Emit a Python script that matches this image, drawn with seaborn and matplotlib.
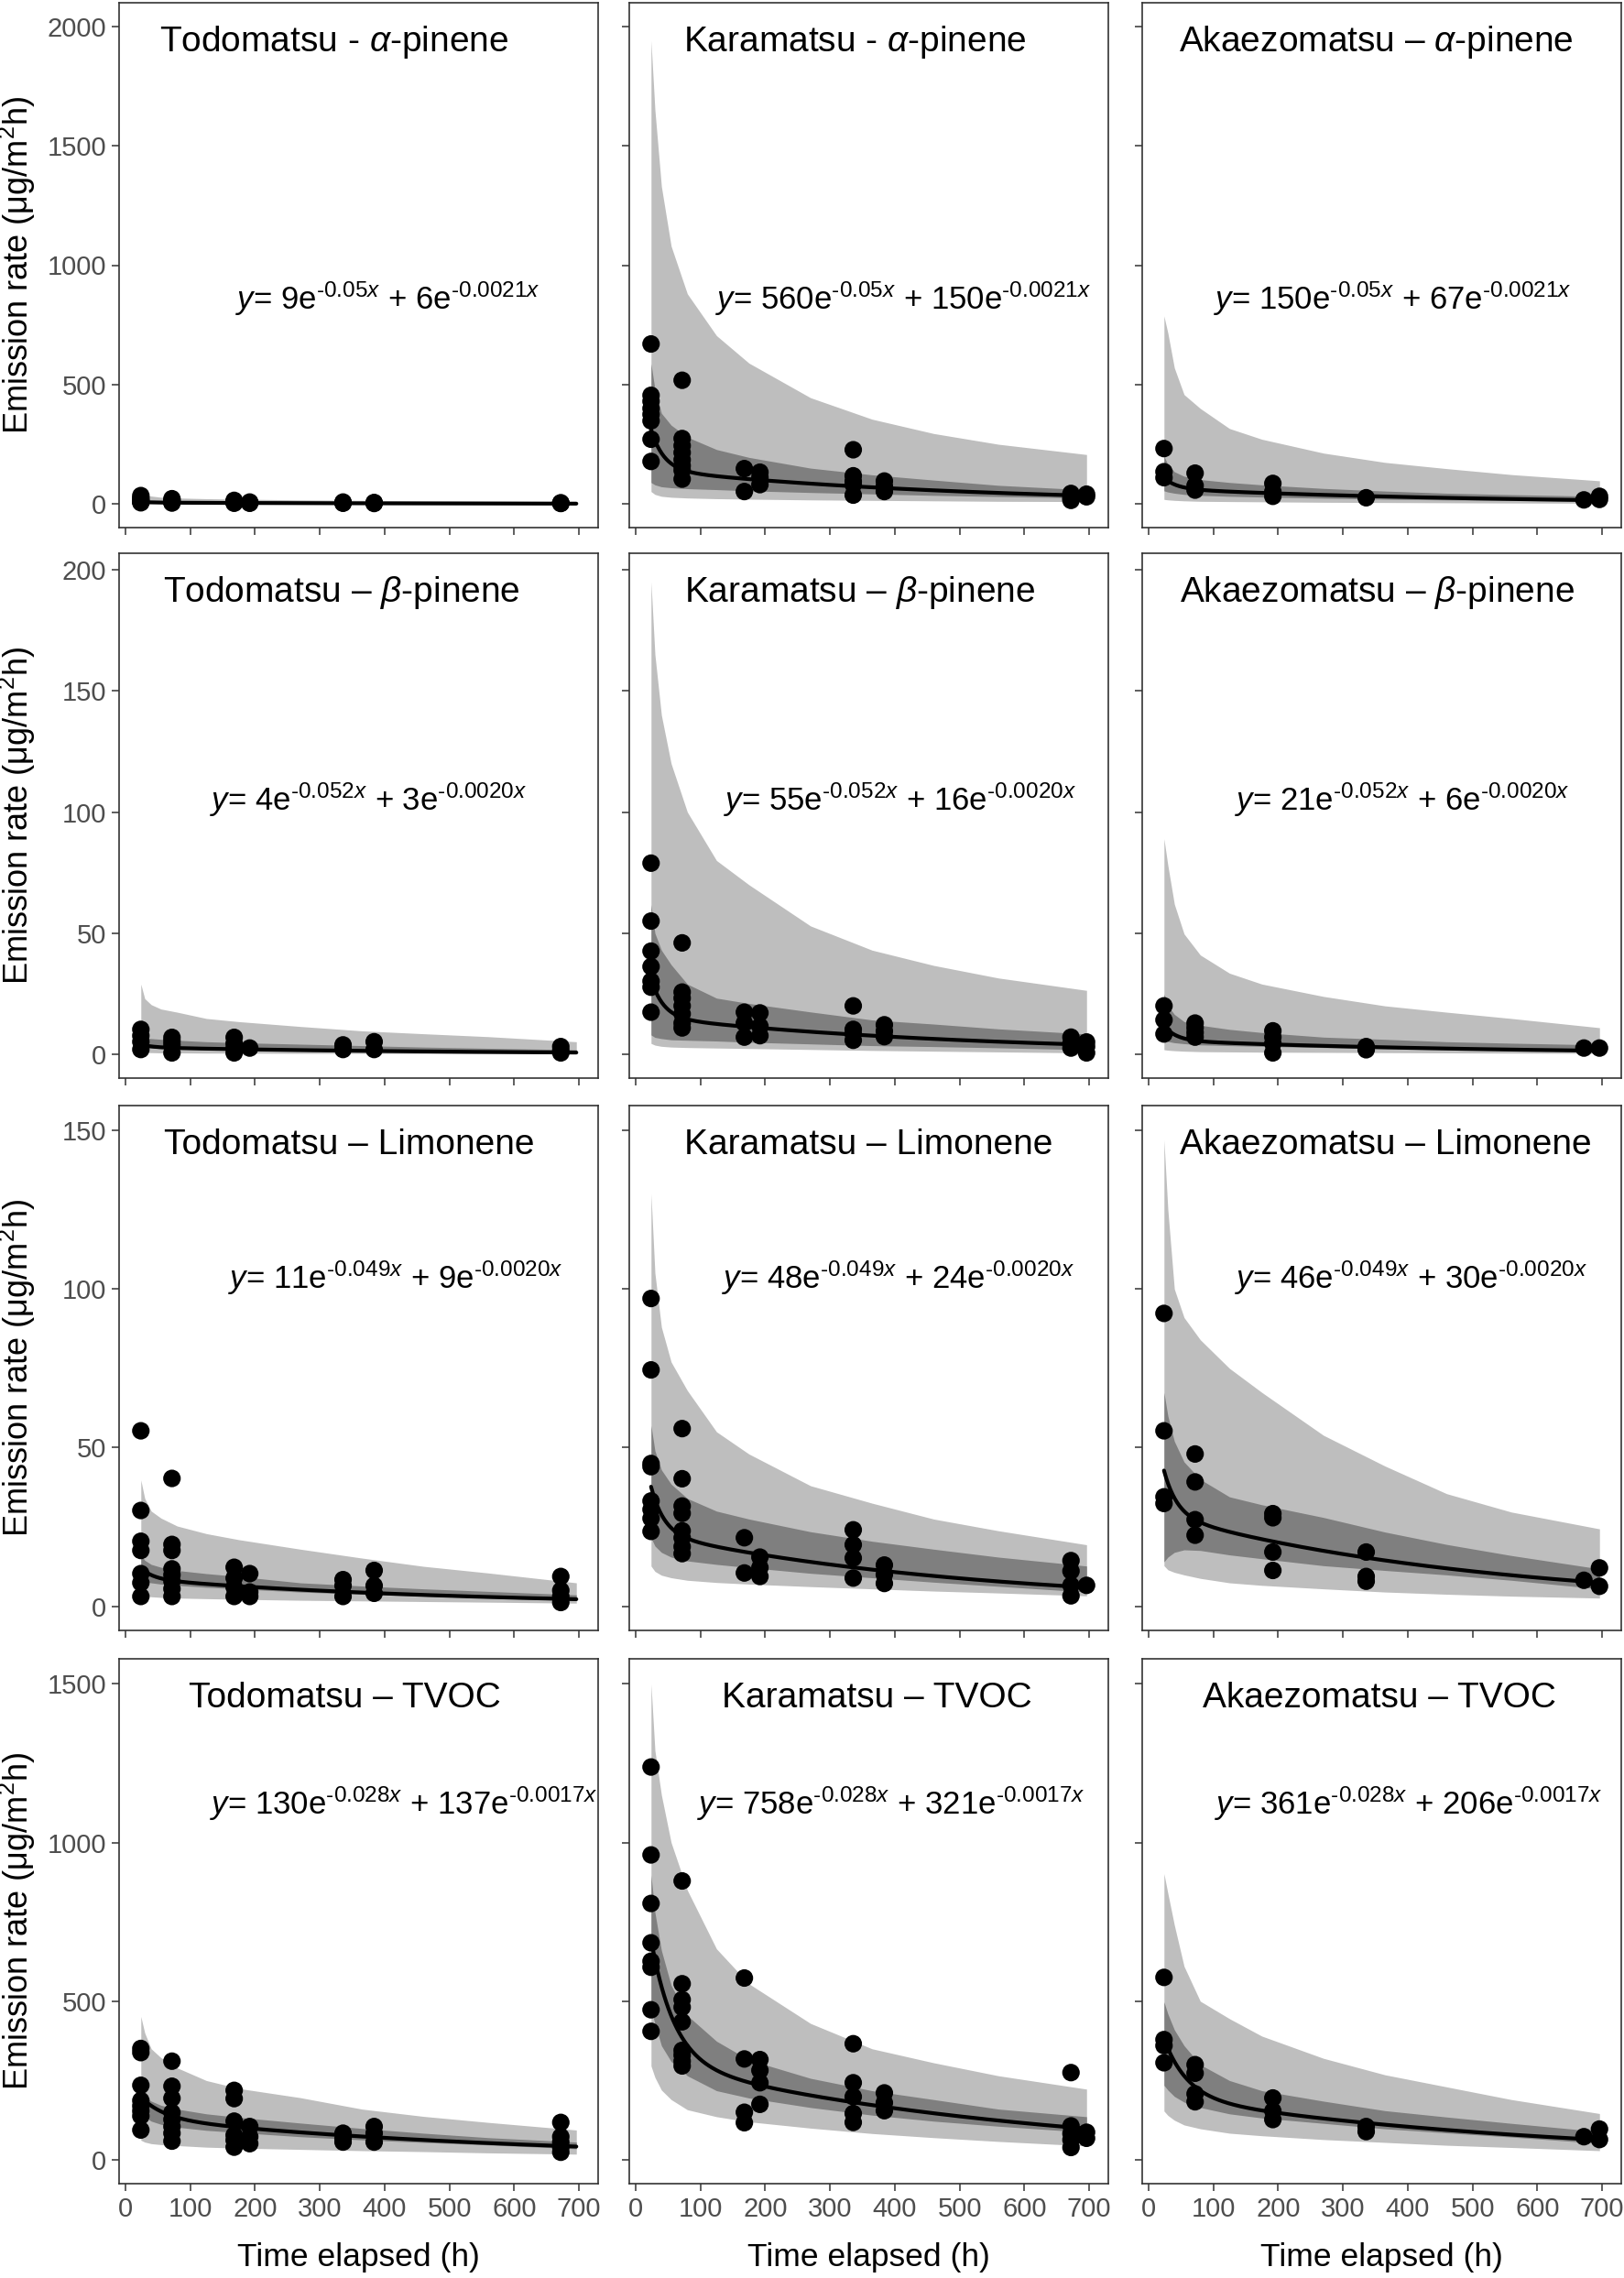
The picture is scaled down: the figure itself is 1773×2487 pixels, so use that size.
import numpy as np
import pandas as pd
import matplotlib
matplotlib.use("Agg")
import matplotlib.pyplot as plt
import seaborn as sns

sns.set_theme(style="white")
plt.rcParams['font.family'] = ['Liberation Sans', 'DejaVu Sans']
plt.rcParams['mathtext.fontset'] = 'custom'
plt.rcParams['mathtext.rm'] = 'Liberation Sans'
plt.rcParams['mathtext.it'] = 'Liberation Sans:italic'
plt.rcParams['mathtext.bf'] = 'Liberation Sans:bold'

# ---- data ----
SPECIES = ["Todomatsu", "Karamatsu", "Akaezomatsu"]
COMPOUNDS = [r"$\mathit{\alpha}$-pinene", r"$\mathit{\beta}$-pinene", "Limonene", "TVOC"]
DASHES = [["-", "-", "–"], ["–", "–", "–"], ["–", "–", "–"], ["–", "–", "–"]]

# fitted model y = A1 e^(-K1 x) + A2 e^(-K2 x), as printed on each panel
COEF1 = [[9, 560, 150], [4, 55, 21], [11, 48, 46], [130, 758, 361]]
COEF2 = [[6, 150, 67], [3, 16, 6], [9, 24, 30], [137, 321, 206]]
RATE1 = ["0.05", "0.052", "0.049", "0.028"]
RATE2 = ["0.0021", "0.0020", "0.0020", "0.0017"]

# x positions where the shaded bands were read
BAND_X = [24, 30, 40, 55, 80, 125, 175, 270, 365, 460, 560, 696]

# measured emission rates, hours -> values
todo_apin = {24: [35, 25, 18, 12, 8, 5], 72: [22, 15, 10, 6, 4], 168: [15, 10, 6, 3],
             192: [8, 5, 3], 336: [8, 5, 3], 384: [6, 4, 2], 672: [5, 3, 2]}
kara_apin = {24: [670, 455, 430, 400, 375, 348, 271, 178], 72: [518, 274, 244, 215, 185, 160, 141, 104],
             168: [148, 52], 192: [133, 111, 81], 336: [227, 118, 95, 81, 37], 384: [96, 74, 52],
             672: [44, 30, 22, 15], 696: [41, 30]}
akae_apin = {24: [232, 135, 110], 72: [129, 77, 58], 192: [86, 52, 32], 336: [26], 672: [17], 696: [32, 19]}

todo_bpin = {24: [10.3, 7.7, 5.2, 2], 72: [7, 5.5, 3.9, 0.6], 168: [7, 4.5, 2.5, 0.6], 192: [2.6],
             336: [3.9, 2], 384: [5.2, 2], 672: [3.2, 1.5, 0.6]}
kara_bpin = {24: [78.9, 55, 42.6, 36.2, 30.2, 27.7, 17.4], 72: [46, 25.7, 23.2, 20, 16.7, 12.9, 10.9],
             168: [17.4, 12.9, 7.1], 192: [17.1, 11.6, 7.7], 336: [20, 10.3, 8.4, 5.8], 384: [12.2, 9.6, 7.3],
             672: [7.1, 4.5, 2.6], 696: [5.1, 3.2, 0.6]}
akae_bpin = {24: [20, 14.2, 8.4], 72: [12.9, 11, 9, 7.1], 192: [9.7, 7.1, 4.5, 0.6], 336: [3.2, 1.9],
             672: [2.6], 696: [2.6]}

todo_limo = {24: [55.3, 30.2, 20.5, 17.6, 10.3, 7.4, 3.1], 72: [40.3, 19.5, 17.6, 11.8, 9.9, 7.9, 5.5, 3.1],
             168: [12.3, 8.9, 6, 3.1], 192: [10.3, 4.5, 3.1], 336: [8.4, 6.5, 3.1], 384: [11.3, 6.5, 4.1],
             672: [9.4, 5, 3.1, 1.2]}
kara_limo = {24: [97, 74.5, 45, 44, 33.2, 30.5, 27.7, 23.6], 72: [56, 40.2, 31.6, 29.3, 23.8, 21.6, 18.8, 16.6],
             168: [21.6, 10.5], 192: [15.5, 12.2, 9.4], 336: [24.1, 19.4, 15.2, 8.9], 384: [13, 10, 7.2],
             672: [14.4, 11.1, 6.6, 3.3], 696: [6.6]}
akae_limo = {24: [92.3, 55.3, 34.5, 32.4], 72: [48, 39.2, 27.3, 22.4], 192: [29.2, 27.9, 17.1, 11.3],
             336: [17.1, 9.4, 7.9], 672: [8.2], 696: [12.1, 6.3]}

todo_tvoc = {24: [351, 338, 235, 187, 170, 154, 138, 94], 72: [311, 232, 194, 149, 127, 105, 84, 59],
             168: [219, 193, 122, 78, 62, 40], 192: [105, 73, 51], 336: [84, 67, 56], 384: [105, 84, 56],
             672: [118, 73, 56, 40, 24]}
kara_tvoc = {24: [1238, 961, 808, 684, 626, 607, 473, 405], 72: [879, 555, 505, 481, 435, 345, 330, 311, 296],
             168: [573, 318, 150, 117], 192: [316, 282, 243, 175], 336: [366, 243, 199, 146, 118],
             384: [211, 180, 155], 672: [275, 107, 83, 63, 39], 696: [87, 68]}
akae_tvoc = {24: [575, 379, 360, 306], 72: [300, 273, 208, 183], 192: [195, 154, 127], 336: [105, 89],
             672: [73], 696: [97, 64]}

# shaded bands: (lo95, lo50, hi50, hi95) at BAND_X
todo_apin_band = ([1, 1, 1, 1, 1, 0.9, 0.8, 0.7, 0.6, 0.5, 0.4, 0.3],
                  [5, 5, 4.5, 4.2, 4, 3.8, 3.5, 3, 2.6, 2.2, 1.9, 1.5],
                  [14, 13, 12, 11, 10, 9, 8, 7, 6, 5.5, 5, 4],
                  [45, 38, 33, 28, 25, 22, 20, 17, 15, 13, 12, 10])
kara_apin_band = ([52, 40, 32, 28, 25, 22, 20, 17, 15, 13, 11, 10],
                  [90, 80, 72, 68, 64, 60, 55, 48, 42, 36, 31, 25],
                  [588, 480, 380, 330, 280, 228, 195, 150, 122, 100, 78, 59],
                  [1940, 1650, 1330, 1080, 880, 705, 590, 445, 355, 295, 250, 207])
akae_apin_band = ([19, 17, 15, 13, 11, 10, 9, 7, 6, 5, 4, 3],
                  [55, 50, 45, 40, 36, 32, 29, 24, 20, 17, 15, 12],
                  [200, 165, 135, 116, 102, 90, 80, 65, 54, 45, 39, 32],
                  [787, 716, 570, 458, 400, 316, 271, 213, 174, 148, 123, 97])

todo_bpin_band = ([0.8, 0.7, 0.7, 0.6, 0.6, 0.5, 0.5, 0.4, 0.4, 0.3, 0.3, 0.2],
                  [3.0, 2.8, 2.6, 2.4, 2.1, 2.0, 1.8, 1.5, 1.3, 1.1, 0.9, 0.6],
                  [7.1, 6.8, 6.5, 6.2, 5.8, 5.2, 4.8, 4.2, 3.6, 3.0, 2.5, 1.9],
                  [29, 23, 20.5, 18.7, 17.4, 14.8, 13.5, 11.5, 9.7, 8.5, 7.3, 5.2])
kara_bpin_band = ([4.5, 3.8, 3.3, 3.0, 2.8, 2.6, 2.4, 2.0, 1.6, 1.3, 1.0, 0.6],
                  [8, 7, 6.5, 6, 5.8, 5.5, 5, 4.3, 3.6, 3.2, 2.7, 1.9],
                  [61.8, 50, 43, 37, 29, 23.2, 21, 17.5, 14.2, 12.5, 10.5, 8.4],
                  [195, 165, 140, 120, 100, 80, 70, 53, 43, 36.7, 31.5, 26.4])
akae_bpin_band = ([1.9, 1.7, 1.5, 1.3, 1.1, 1.0, 0.9, 0.8, 0.7, 0.6, 0.5, 0.4],
                  [5.8, 5.3, 4.8, 4.4, 3.9, 3.6, 3.3, 2.8, 2.3, 1.9, 1.6, 1.2],
                  [24.9, 20, 16.5, 13.5, 12, 10.3, 9, 7.1, 6.2, 5.2, 4.6, 3.9],
                  [89, 78, 62, 49.7, 41, 33.5, 29, 23.9, 20, 17.4, 14.8, 11])

todo_limo_band = ([3.6, 3.3, 3.0, 2.8, 2.6, 2.4, 2.2, 1.9, 1.7, 1.5, 1.3, 1.0],
                  [8.4, 7.8, 7.4, 7, 6.6, 6.0, 5.5, 4.5, 3.8, 3.2, 2.6, 1.8],
                  [16.2, 14.5, 13.2, 12.3, 11.3, 10.3, 9.4, 7.4, 6.4, 5.5, 4.7, 3.6],
                  [39.8, 34, 30, 27.8, 25.3, 22.9, 21, 18, 15.2, 12.6, 10.5, 7.4])
kara_limo_band = ([12.7, 11, 9.8, 9.0, 8.2, 7.5, 7, 6.2, 5.5, 4.8, 4.2, 3.3],
                  [21.6, 19, 17, 15.5, 14.3, 13.2, 12.2, 10.4, 9.0, 7.6, 6.3, 4.5],
                  [57, 49, 43, 38.5, 34, 30, 27.5, 23.5, 20.5, 18, 15.5, 12.7],
                  [130, 105, 88, 77, 68, 55, 48, 38, 32.5, 27.5, 23.8, 19.4])
akae_limo_band = ([12.8, 11.5, 10.7, 9.9, 8.8, 7.4, 6.6, 5.5, 4.5, 3.8, 3.2, 2.6],
                  [14, 15.5, 17, 17.8, 17.6, 16.2, 15, 12.8, 11.3, 9.9, 8.2, 5.5],
                  [67.4, 60, 52, 45.5, 40, 34.5, 32, 28, 23.4, 19.5, 16, 11.8],
                  [147, 125, 100, 91, 84, 75, 67.4, 53.9, 44.2, 35.5, 29.7, 24.4])

todo_tvoc_band = ([62, 56, 51, 48, 45, 40, 37, 33, 29, 26, 22, 18],
                  [150, 135, 122, 112, 103, 93, 86, 73, 63, 55, 47, 35],
                  [210, 198, 185, 172, 160, 145, 134, 116, 99, 84, 70, 56],
                  [452, 400, 350, 322, 290, 250, 225, 196, 160, 137, 118, 94])
kara_tvoc_band = ([296, 260, 220, 190, 158, 136, 120, 100, 83, 70, 58, 44],
                  [471, 430, 360, 310, 265, 218, 195, 165, 141, 122, 106, 87],
                  [898, 780, 660, 550, 455, 374, 315, 257, 218, 190, 160, 136],
                  [1500, 1290, 1150, 1000, 850, 665, 555, 430, 350, 306, 265, 223])
akae_tvoc_band = ([154, 140, 125, 110, 98, 84, 76, 64, 55, 46, 39, 29],
                  [235, 220, 200, 182, 165, 145, 132, 115, 98, 85, 72, 52],
                  [498, 460, 410, 360, 300, 250, 218, 185, 155, 135, 115, 89],
                  [902, 840, 740, 610, 500, 445, 390, 320, 268, 230, 190, 146])

POINTS = [[todo_apin, kara_apin, akae_apin], [todo_bpin, kara_bpin, akae_bpin],
          [todo_limo, kara_limo, akae_limo], [todo_tvoc, kara_tvoc, akae_tvoc]]
BANDS = [[todo_apin_band, kara_apin_band, akae_apin_band], [todo_bpin_band, kara_bpin_band, akae_bpin_band],
         [todo_limo_band, kara_limo_band, akae_limo_band], [todo_tvoc_band, kara_tvoc_band, akae_tvoc_band]]

Y_TICKS = [[0, 500, 1000, 1500, 2000], [0, 50, 100, 150, 200], [0, 50, 100, 150], [0, 500, 1000, 1500]]

# ---- layout ----
Y_LIMS = [(-99, 2099), (-9.8, 206.8), (-7.6, 157.8), (-75, 1579)]
COL_LEFT = [130, 687, 1247]
ROW_BOTTOM = [576, 1177, 1780, 2384]
AX_W, AX_H = 523, 573
TITLE_X = [[0.085, 0.112, 0.076], [0.091, 0.115, 0.079], [0.094, 0.115, 0.079], [0.146, 0.194, 0.127]]
EQ_X = [[0.243, 0.18, 0.15], [0.19, 0.197, 0.194], [0.228, 0.194, 0.194], [0.19, 0.142, 0.152]]
EQ_Y = [0.435, 0.53, 0.672, 0.724]

LIGHT = "#BEBEBE"
DARK = "#7F7F7F"
AXCOL = "#333333"
TICKCOL = "#4D4D4D"

W, H = 1773, 2487
fig = plt.figure(figsize=(W / 100, H / 100), dpi=100)


def sup(rate):
    # exponent written with a plain hyphen, as in the figure
    return r"$^{\text{-" + rate + r"}\mathit{x}}$"


for r in range(4):
    for c in range(3):
        ax = fig.add_axes([COL_LEFT[c] / W, 1 - ROW_BOTTOM[r] / H, AX_W / W, AX_H / H])
        lo95, lo50, hi50, hi95 = BANDS[r][c]
        ax.fill_between(BAND_X, lo95, hi95, color=LIGHT, lw=0, zorder=1)
        ax.fill_between(BAND_X, lo50, hi50, color=DARK, lw=0, zorder=1.5)

        a1, a2 = COEF1[r][c], COEF2[r][c]
        k1, k2 = float(RATE1[r]), float(RATE2[r])
        xs = np.linspace(BAND_X[0], BAND_X[-1], 400)
        sns.lineplot(x=xs, y=a1 * np.exp(-k1 * xs) + a2 * np.exp(-k2 * xs),
                     color="black", lw=3.0, ax=ax, zorder=2)

        pts = POINTS[r][c]
        df = pd.DataFrame([(t, v) for t, vals in pts.items() for v in vals], columns=["time", "rate"])
        sns.scatterplot(data=df, x="time", y="rate", color="black", s=190,
                        edgecolor="none", linewidth=0, ax=ax, zorder=3)

        ax.set_xlim(-9.6, 729.6)
        ax.set_ylim(*Y_LIMS[r])
        ax.set_xticks(range(0, 701, 100))
        ax.set_yticks(Y_TICKS[r])
        for s in ax.spines.values():
            s.set_color(AXCOL)
            s.set_linewidth(1.2)
        ax.tick_params(direction="out", length=6, width=1.1, color=AXCOL,
                       labelcolor=TICKCOL, labelsize=21, pad=4,
                       left=True, bottom=True)
        if c > 0:
            ax.tick_params(labelleft=False)
        if r < 3:
            ax.tick_params(labelbottom=False)
        ax.set_xlabel("")
        ax.set_ylabel("")
        if c == 0:
            ax.set_ylabel("Emission rate (μg/m$^2$h)", fontsize=26, color="black")
            ax.yaxis.set_label_coords(-0.17, 0.5)
        if r == 3:
            ax.set_xlabel("Time elapsed (h)", fontsize=25.5, color="black", labelpad=16)

        title = f"{SPECIES[c]} {DASHES[r][c]} {COMPOUNDS[r]}"
        ax.text(TITLE_X[r][c], 0.925, title, transform=ax.transAxes, fontsize=28,
                ha="left", va="center", color="black")
        eq = (r"$\mathit{y}$= " + f"{COEF1[r][c]}e" + sup(RATE1[r])
              + f" + {COEF2[r][c]}e" + sup(RATE2[r]))
        ax.text(EQ_X[r][c], EQ_Y[r], eq, transform=ax.transAxes, fontsize=25,
                ha="left", va="center", color="black")

fig.savefig("out.png", dpi=100)
